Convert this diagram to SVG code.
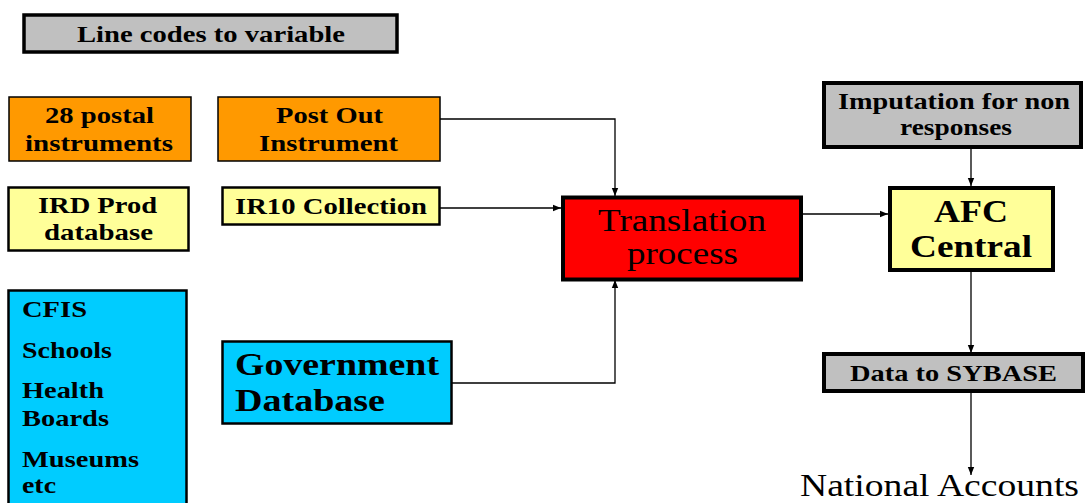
<svg xmlns="http://www.w3.org/2000/svg" width="1088" height="503" viewBox="0 0 1088 503">
<style>
text{font-family:"Liberation Serif","Times New Roman",serif;fill:#000}
.b{font-weight:bold;font-size:23px}
.box{stroke:#000}
.gray{fill:#c0c0c0}
.orange{fill:#ff9900}
.yellow{fill:#ffff99}
.cyan{fill:#00ccff}
.red{fill:#ff0000}
.conn{fill:none;stroke:#000;stroke-width:1.3}
</style>
<defs>
<marker id="ah" viewBox="0 0 10 10" refX="10" refY="5" markerWidth="8" markerHeight="8" markerUnits="userSpaceOnUse" orient="auto">
<path d="M0,1 L10,5 L0,9 z" fill="#000"/>
</marker>
</defs>
<g id="connectors">
<path class="conn" d="M440,119 H615 V196" marker-end="url(#ah)"/>
<path class="conn" d="M440,208 H561" marker-end="url(#ah)"/>
<path class="conn" d="M452,383 H615 V280" marker-end="url(#ah)"/>
<path class="conn" d="M802,214 H888" marker-end="url(#ah)"/>
<path class="conn" d="M971,148 V186" marker-end="url(#ah)"/>
<path class="conn" d="M971,270 V353" marker-end="url(#ah)"/>
<path class="conn" d="M971,391 V475" marker-end="url(#ah)"/>
</g>
<g id="line-codes">
<rect class="box gray" x="24" y="15" width="373" height="37" stroke-width="3.5"/>
<text class="b" x="77" y="42" textLength="268" lengthAdjust="spacingAndGlyphs">Line codes to variable</text>
</g>
<g id="postal">
<rect class="box orange" x="9" y="97" width="182" height="64" stroke-width="1.5"/>
<text class="b" x="45" y="123" textLength="109" lengthAdjust="spacingAndGlyphs">28 postal</text>
<text class="b" x="25" y="151" textLength="148" lengthAdjust="spacingAndGlyphs">instruments</text>
</g>
<g id="post-out">
<rect class="box orange" x="218" y="97" width="222" height="64" stroke-width="1.5"/>
<text class="b" x="276" y="123" textLength="107" lengthAdjust="spacingAndGlyphs">Post Out</text>
<text class="b" x="259" y="151" textLength="139" lengthAdjust="spacingAndGlyphs">Instrument</text>
</g>
<g id="ird-prod">
<rect class="box yellow" x="8.5" y="187.5" width="180" height="63" stroke-width="2.5"/>
<text class="b" x="38" y="213" textLength="119" lengthAdjust="spacingAndGlyphs">IRD Prod</text>
<text class="b" x="44" y="240" textLength="109" lengthAdjust="spacingAndGlyphs">database</text>
</g>
<g id="ir10">
<rect class="box yellow" x="222.5" y="187.5" width="217" height="37" stroke-width="2.5"/>
<text class="b" x="235" y="214" textLength="192" lengthAdjust="spacingAndGlyphs">IR10 Collection</text>
</g>
<g id="cfis">
<rect class="box cyan" x="8.5" y="290.5" width="178" height="220" stroke-width="2.5"/>
<text class="b" x="22" y="317" textLength="65" lengthAdjust="spacingAndGlyphs">CFIS</text>
<text class="b" x="22" y="358" textLength="90" lengthAdjust="spacingAndGlyphs">Schools</text>
<text class="b" x="22" y="398" textLength="82" lengthAdjust="spacingAndGlyphs">Health</text>
<text class="b" x="22" y="426" textLength="87" lengthAdjust="spacingAndGlyphs">Boards</text>
<text class="b" x="22" y="467" textLength="117" lengthAdjust="spacingAndGlyphs">Museums</text>
<text class="b" x="22" y="493" textLength="34" lengthAdjust="spacingAndGlyphs">etc</text>
</g>
<g id="government">
<rect class="box cyan" x="222.5" y="341.5" width="229" height="82" stroke-width="2.5"/>
<text class="b" x="235" y="375" style="font-size:31px" textLength="204" lengthAdjust="spacingAndGlyphs">Government</text>
<text class="b" x="235" y="411" style="font-size:31px" textLength="150" lengthAdjust="spacingAndGlyphs">Database</text>
</g>
<g id="translation">
<rect class="box red" x="563" y="197.5" width="238" height="82" stroke-width="4"/>
<text x="598" y="231" style="font-size:31px" textLength="168" lengthAdjust="spacingAndGlyphs">Translation</text>
<text x="627" y="264" style="font-size:31px" textLength="111" lengthAdjust="spacingAndGlyphs">process</text>
</g>
<g id="imputation">
<rect class="box gray" x="824" y="83" width="257" height="64" stroke-width="4"/>
<text class="b" x="838" y="109" textLength="232" lengthAdjust="spacingAndGlyphs">Imputation for non</text>
<text class="b" x="900" y="135" textLength="112" lengthAdjust="spacingAndGlyphs">responses</text>
</g>
<g id="afc">
<rect class="box yellow" x="890" y="188" width="163" height="82" stroke-width="4"/>
<text class="b" x="934" y="222" style="font-size:31px" textLength="74" lengthAdjust="spacingAndGlyphs">AFC</text>
<text class="b" x="910" y="257" style="font-size:31px" textLength="122" lengthAdjust="spacingAndGlyphs">Central</text>
</g>
<g id="sybase">
<rect class="box gray" x="824" y="354" width="259" height="37" stroke-width="4"/>
<text class="b" x="850" y="381" textLength="207" lengthAdjust="spacingAndGlyphs">Data to SYBASE</text>
</g>
<g id="national">
<text x="800" y="496" style="font-size:32px" textLength="279" lengthAdjust="spacingAndGlyphs">National Accounts</text>
</g>
</svg>
